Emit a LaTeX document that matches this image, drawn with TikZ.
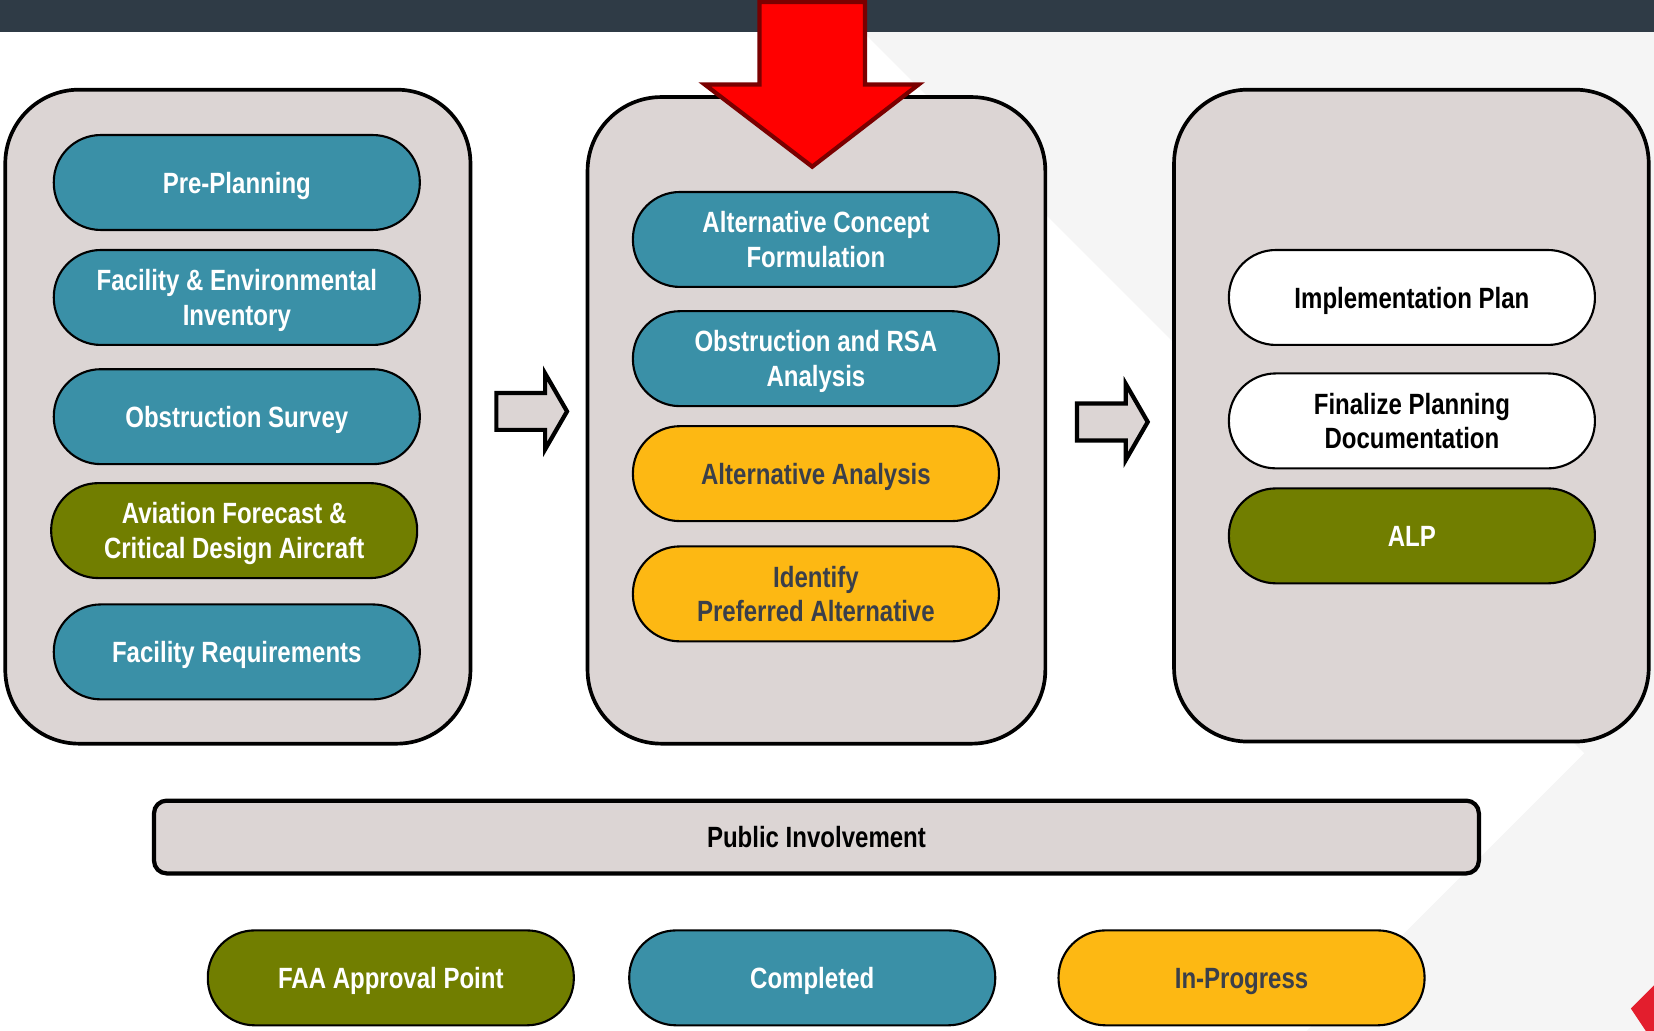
\documentclass[tikz,border=0pt]{standalone}
\usepackage{fontspec}
\setmainfont{Liberation Sans}[FakeStretch=0.82]
\usetikzlibrary{shapes.arrows}
\definecolor{BarColor}{HTML}{2F3B46}
\definecolor{ShadeColor}{HTML}{F5F5F5}
\definecolor{PanelColor}{HTML}{DCD5D4}
\definecolor{DoneColor}{HTML}{3A90A7}
\definecolor{ApprovalColor}{HTML}{717E00}
\definecolor{ProgressColor}{HTML}{FDB813}
\definecolor{InkColor}{HTML}{3A3F4A}
\definecolor{PointerRed}{HTML}{FF0000}
\definecolor{PointerDark}{HTML}{7A0000}
\definecolor{CornerRed}{HTML}{E31E2D}
\newcommand{\XLeft}{224.5}
\newcommand{\XMid}{773.5}
\newcommand{\XRight}{1338.5}
\newcommand{\PillWidth}{34.7mm}
\newcommand{\PillHeight}{9mm}

\begin{document}
\begin{tikzpicture}[
  x=0.1mm, y=-0.1mm,
  txt/.style={font=\bfseries\fontsize{7.9}{9.4}\selectfont,
    execute at begin node=\rule{0pt}{7.4pt},
    execute at end node=\rule[-1.7pt]{0pt}{1.7pt}},
  twoline/.style={text depth=-0.4pt},
  panel/.style={draw=black,line width=0.35mm,fill=PanelColor,rounded corners=7mm,inner sep=0pt},
  pill/.style={txt,draw=black,line width=0.2mm,rounded corners=4.45mm,
    minimum width=\PillWidth,minimum height=\PillHeight,inner sep=0pt,align=center},
  done/.style={pill,fill=DoneColor,text=white},
  approval/.style={pill,fill=ApprovalColor,text=white},
  progress/.style={pill,fill=ProgressColor,text=InkColor},
  pending/.style={pill,fill=white,text=black},
  blockarrow/.style={single arrow,draw=black,line width=0.4mm,fill=PanelColor,
    minimum height=6.7mm,inner xsep=0pt,inner ysep=1.55mm,single arrow head extend=1.85mm,
    single arrow tip angle=120}
]
\useasboundingbox (0,0) rectangle (1568,977);

% Background
\fill[white] (0,0) rectangle (1568,977);
\fill[ShadeColor] (818,30) -- (1502,714) -- (1239,977) -- (1568,977) -- (1568,30) -- cycle;
\fill[BarColor] (0,0) rectangle (1568,30);
\fill[CornerRed] (1546,956) -- (1570,932) -- (1600,962) -- (1570,992) -- cycle;

% Panels
\node[panel,minimum width=44.1mm,minimum height=62mm] (leftpanel) at (225.5,395) {};
\node[panel,minimum width=43.4mm,minimum height=61.3mm] (midpanel) at (774,398.5) {};
\node[panel,minimum width=45mm,minimum height=61.8mm] (rightpanel) at (1338,394) {};

% Left column
\node[done] (pre) at (\XLeft,173) {Pre-Planning};
\node[done,twoline] (inventory) at (\XLeft,282) {Facility \& Environmental\\Inventory};
\node[done] (survey) at (\XLeft,395) {Obstruction Survey};
\node[approval,twoline] (forecast) at (222,503) {Aviation Forecast \&\\Critical Design Aircraft};
\node[done] (requirements) at (\XLeft,618) {Facility Requirements};

% Middle column
\node[done,twoline] (concept) at (\XMid,227) {Alternative Concept\\Formulation};
\node[done,twoline] (rsa) at (\XMid,340) {Obstruction and RSA\\Analysis};
\node[progress] (altanalysis) at (\XMid,449) {Alternative Analysis};
\node[progress,twoline] (preferred) at (\XMid,563) {Identify\\Preferred Alternative};

% Right column
\node[pending] (implement) at (\XRight,282) {Implementation Plan};
\node[pending,twoline] (finalize) at (\XRight,399) {Finalize Planning\\Documentation};
\node[approval] (alp) at (\XRight,508) {ALP};

% Steps between panels
\node[blockarrow] (stepone) at (499,390) {};
\node[blockarrow] (steptwo) at (1049.5,400) {};

% Current stage pointer
\filldraw[fill=PointerRed,draw=PointerDark,line width=0.4mm,line join=miter]
  (720,2) -- (720,80) -- (668,80) -- (770,158) -- (871,80) -- (820,80) -- (820,2) -- cycle;

% Public involvement bar
\node[txt,draw=black,line width=0.4mm,fill=PanelColor,rounded corners=1.2mm,
  minimum width=125.6mm,minimum height=6.9mm] (public) at (774,793.5) {Public Involvement};

% Legend
\node[approval] (keyfaa) at (370.5,927) {FAA Approval Point};
\node[done] (keydone) at (770,927) {Completed};
\node[progress] (keyprogress) at (1177,927) {In-Progress};

\end{tikzpicture}
\end{document}
